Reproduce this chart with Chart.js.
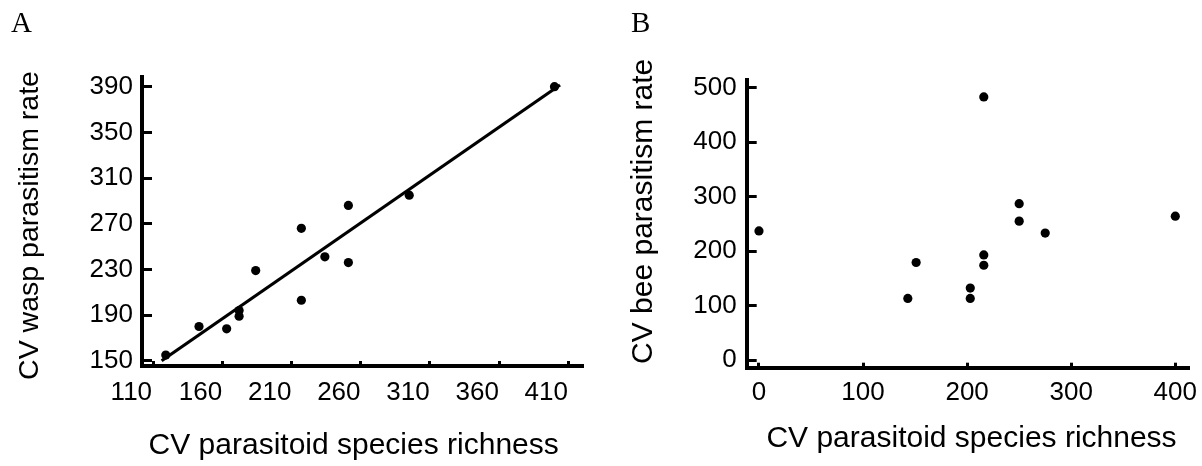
<!DOCTYPE html>
<html>
<head>
<meta charset="utf-8">
<script src="https://cdn.jsdelivr.net/npm/chart.js@4/dist/chart.umd.min.js"></script>
<style>
  body { margin: 0; background: #fff; }
  #wrap { position: relative; width: 1202px; height: 466px; }
  canvas { position: absolute; top: 0; }
  .panel { position: absolute; font-family: "Liberation Serif", "Times New Roman", serif; font-size: 29px; line-height: 29px; color: #000; }
</style>
</head>
<body>
<div id="wrap">
  <canvas id="chartA" width="600" height="466" style="left:0"></canvas>
  <canvas id="chartB" width="602" height="466" style="left:600px"></canvas>
  <div class="panel" style="left:11px; top:8px">A</div>
  <div class="panel" style="left:631px; top:8px">B</div>
</div>
<script>
// Panel A: wasp parasitism vs parasitoid richness
const waspRichness = [119, 143, 163, 172, 172, 184, 217, 217, 234, 251, 251, 295, 400];
const waspRate     = [155, 180, 178, 189, 194, 229, 266, 203, 241, 286, 236, 295, 390];
// fitted regression line, end points
const waspFitX = [116, 404];
const waspFitY = [150, 391.5];
const ticksAx = [110, 160, 210, 260, 310, 360, 410];
const ticksAy = [150, 190, 230, 270, 310, 350, 390];

// Panel B: bee parasitism vs parasitoid richness
const beeRichness = [0, 151, 143, 203, 203, 216, 216, 216, 250, 250, 275, 400];
const beeRate     = [237, 179, 113, 132, 113, 483, 193, 174, 287, 255, 233, 264];
const ticksBx = [0, 100, 200, 300, 400];
const ticksBy = [0, 100, 200, 300, 400, 500];

const sans = "'Liberation Sans', Arial, sans-serif";

function toPoints(xs, ys) {
    var pts = [];
    for (var i = 0; i < xs.length; i++) {
        pts.push({x: xs[i], y: ys[i]});
    }
    return pts;
}

function fixedTicks(values) {
    return function(scale) {
        scale.ticks = values.map(function(v) { return {value: v}; });
    };
}

// axis with inward tick marks and a heavy black line
function axis(opts) {
    return {
        type: 'linear',
        position: opts.position,
        min: opts.min,
        max: opts.max,
        afterBuildTicks: fixedTicks(opts.ticks),
        afterFit: function(scale) {
            if (opts.position == 'left') {
                scale.width = opts.size;
            } else {
                scale.height = opts.size;
                // keep the plot edges where the layout padding puts them
                scale.paddingLeft = 0;
                scale.paddingRight = 0;
            }
        },
        border: {display: true, color: '#000', width: 4},
        grid: {
            display: true,
            drawOnChartArea: false,
            drawTicks: true,
            tickLength: opts.tickLength,
            color: '#000',
            lineWidth: 3
        },
        ticks: {
            color: '#000',
            font: {family: sans, size: 26},
            padding: opts.padding,
            labelOffset: opts.labelOffset || 0,
            maxRotation: 0,
            autoSkip: false,
            callback: function(v) { return String(v); }
        },
        title: {
            display: true,
            text: opts.title,
            color: '#000',
            font: {family: sans, size: opts.titleSize},
            padding: opts.titlePadding
        }
    };
}

const dots = {
    pointRadius: 4.6,
    pointBackgroundColor: '#000',
    pointBorderWidth: 0,
    showLine: false
};

const chartA = new Chart(document.getElementById('chartA'), {
    type: 'scatter',
    data: {
        datasets: [
            Object.assign({data: toPoints(waspRichness, waspRate)}, dots),
            {
                data: toPoints(waspFitX, waspFitY),
                showLine: true,
                borderColor: '#000',
                borderWidth: 3.2,
                pointRadius: 0
            }
        ]
    },
    options: {
        responsive: false,
        animation: false,
        layout: {padding: {top: 77, right: 18, bottom: 0, left: 0}},
        plugins: {legend: {display: false}, tooltip: {enabled: false}},
        scales: {
            x: axis({position: 'bottom', min: 101.8, max: 419.9, ticks: ticksAx, size: 100,
                     tickLength: -5, padding: 16, labelOffset: -22,
                     title: 'CV parasitoid species richness  ', titleSize: 30,
                     titlePadding: {top: 0, bottom: 2}}),
            y: axis({position: 'left', min: 145.4, max: 398.5, ticks: ticksAy, size: 142,
                     tickLength: -10, padding: 19,
                     title: 'CV wasp parasitism rate ', titleSize: 28.5,
                     titlePadding: {top: 13, bottom: 0}})
        }
    }
});

const chartB = new Chart(document.getElementById('chartB'), {
    type: 'scatter',
    data: {
        datasets: [
            Object.assign({data: toPoints(beeRichness, beeRate)}, dots)
        ]
    },
    options: {
        responsive: false,
        animation: false,
        layout: {padding: {top: 80, right: 14, bottom: 0, left: 0}},
        plugins: {legend: {display: false}, tooltip: {enabled: false}},
        scales: {
            x: axis({position: 'bottom', min: -11.8, max: 412.2, ticks: ticksBx, size: 98.3,
                     tickLength: -5, padding: 15,
                     title: ' CV parasitoid species richness', titleSize: 30,
                     titlePadding: {top: 0, bottom: 9}}),
            y: axis({position: 'left', min: -14.1, max: 514.1, ticks: ticksBy, size: 146.7,
                     tickLength: -10, padding: 20,
                     title: '   CV bee parasitism rate', titleSize: 30,
                     titlePadding: {top: 26, bottom: 0}})
        }
    }
});
</script>
</body>
</html>
